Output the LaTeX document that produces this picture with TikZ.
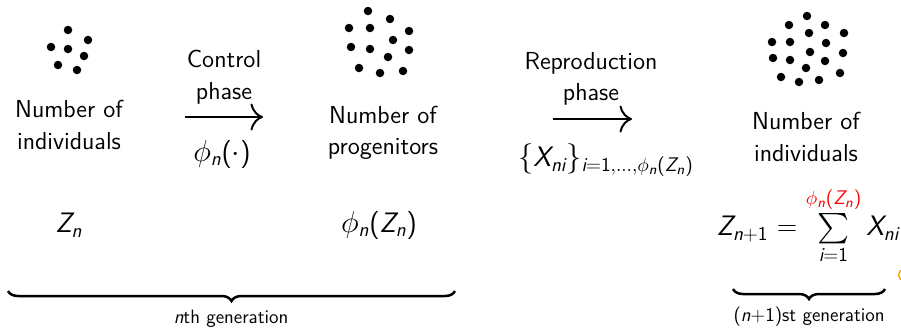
\documentclass[tikz,border=0pt]{standalone}
\usepackage{amsmath}
\usetikzlibrary{
  arrows.meta,
  positioning,
  decorations.pathreplacing
}
\renewcommand{\familydefault}{\sfdefault}
% sans serif letters in math, slide style
\DeclareSymbolFont{sfletters}{TU}{lmss}{m}{sl}
\DeclareSymbolFont{operators}{TU}{lmss}{m}{n}
\DeclareMathSymbol{X}{\mathalpha}{sfletters}{`X}
\DeclareMathSymbol{Z}{\mathalpha}{sfletters}{`Z}
\DeclareMathSymbol{i}{\mathalpha}{sfletters}{`i}
\DeclareMathSymbol{n}{\mathalpha}{sfletters}{`n}

\begin{document}
\begin{tikzpicture}[
      x=0.02cm, y=-0.02cm,
      every node/.style={font=\fontsize{14}{18}\selectfont},
      lbl/.style={align=center, inner sep=0pt},
      formula/.style={inner sep=0pt, font=\fontsize{16}{19}\selectfont},
      gen/.style={inner sep=0pt, font=\fontsize{11}{13}\selectfont},
      dot/.style={fill=black},
      fase/.style={-{Computer Modern Rightarrow[length=0.25cm,width=0.54cm]}, line width=0.04cm},
      chave/.style={decorate, decoration={brace, mirror, amplitude=0.2cm}, line width=0.05cm}
  ]
      \useasboundingbox (0,0) rectangle (901,328);

      % Populacoes
      \foreach \p in {(68,30),(88,40),(51,47),(68,49),(84,56),(58,65),(77,70)}
          \fill[dot] \p circle[radius=0.085cm];
      \foreach \p in {(368,11),(390,19),(349,28),(370,28),(409,31),(393,40),(351,47),
                      (370,49),(409,50),(388,57),(359,68),(380,73),(403,71)}
          \fill[dot] \p circle[radius=0.085cm];
      \foreach \p in {(807,16),(789,25),(825,25),(809,33),(844,33),(772,42),(790,42),
                      (826,43),(810,52),(843,53),(773,58),(790,60),(825,61),(806,68),
                      (840,73),(781,77),(799,82),(819,80)}
          \fill[dot] \p circle[radius=0.085cm];

      \node[lbl] (indA) at (69,125) {Number of\\individuals};
      \node[lbl] (prog) at (383,133) {Number of\\progenitors};
      \node[lbl] (indB) at (806,137) {Number of\\individuals};

      % Fases
      \coordinate (c1a) at (185,117);
      \coordinate (c1b) at (263,117);
      \draw[fase] (c1a) -- (c1b);
      \node[lbl] (ctrl) at (224,77) {Control\\phase};
      \node[formula] (phi) at (222,154) {$\phi_n(\cdot)$};

      \coordinate (c2a) at (553,119);
      \coordinate (c2b) at (632,119);
      \draw[fase] (c2a) -- (c2b);
      \node[lbl] (repr) at (591,79) {Reproduction\\phase};
      \node[formula] (xni) at (606,160) {$\{X_{ni}\}_{i=1,\ldots,\phi_n(Z_n)}$};

      % Tamanhos
      \node[formula] (zn) at (69,225) {$Z_n$};
      \node[formula] (phizn) at (379,225) {$\phi_n(Z_n)$};
      \node[formula] (znn) at (808,226) {$Z_{n+1} = \sum\limits_{i=1}^{\textcolor{red}{\phi_n(Z_n)}} X_{ni}$};

      % Geracoes
      \coordinate (b1a) at (8,291);
      \coordinate (b1b) at (455,291);
      \draw[chave] (b1a) -- (b1b);
      \node[gen] (g1) at (231,319) {$n$th generation};

      \coordinate (b2a) at (733,289);
      \coordinate (b2b) at (885,289);
      \draw[chave] (b2a) -- (b2b);
      \node[gen] (g2) at (809,317) {$(n{+}1)$st generation};

      \draw[orange!70!yellow, line width=0.03cm] (904,275) circle[radius=0.11cm];
  \end{tikzpicture}
\end{document}
